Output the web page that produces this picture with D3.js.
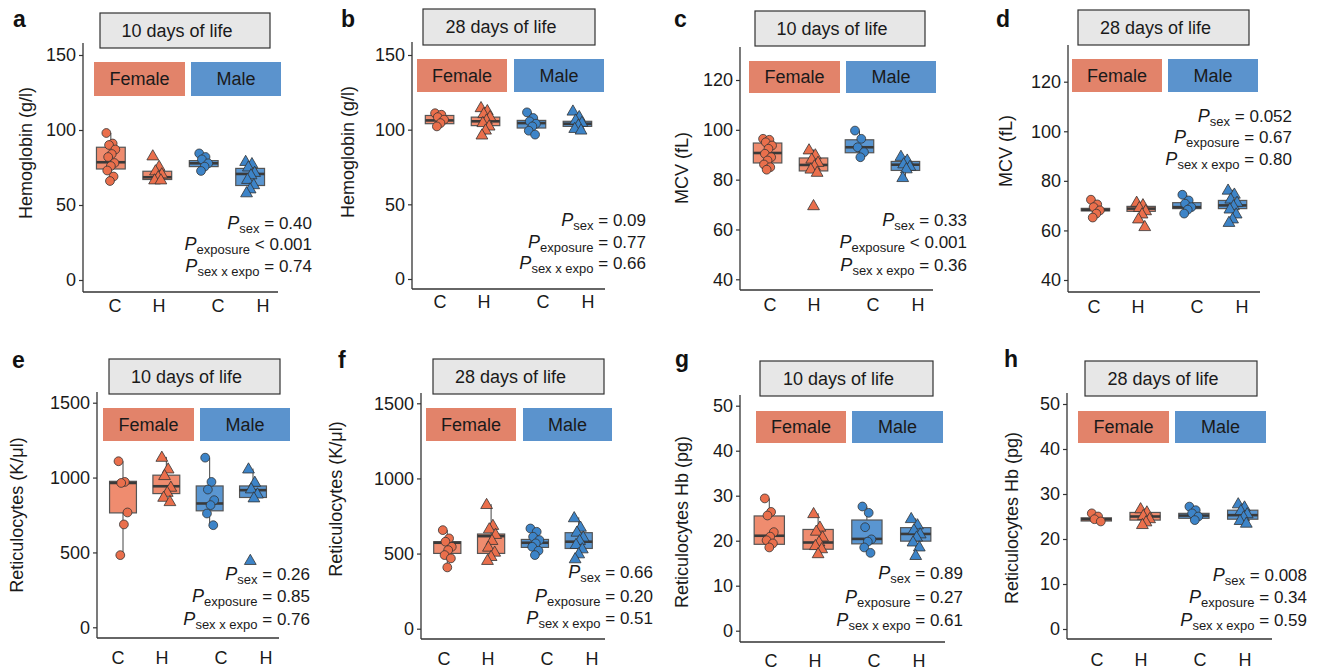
<!DOCTYPE html>
<html>
<head>
<meta charset="utf-8">
<script src="https://cdn.jsdelivr.net/npm/d3@7"></script>
<style>
  body { margin: 0; background: #fff; }
  svg { display: block; }
</style>
</head>
<body>
<svg id="fig" width="1320" height="672"></svg>
<script>
var FONT = "'Liberation Sans', Arial, sans-serif";

// group order: Female C, Female H, Male C, Male H
var groups = ["FC", "FH", "MC", "MH"];
var catLabels = ["C", "H", "C", "H"];
var panelKeys = ["a", "b", "c", "d", "e", "f", "g", "h"];
var titles = ["10 days of life", "28 days of life", "10 days of life", "28 days of life",
              "10 days of life", "28 days of life", "10 days of life", "28 days of life"];
var yTitles = ["Hemoglobin (g/l)", "Hemoglobin (g/l)", "MCV (fL)", "MCV (fL)",
               "Reticulocytes (K/\u03bcl)", "Reticulocytes (K/\u03bcl)",
               "Reticulocytes Hb (pg)", "Reticulocytes Hb (pg)"];
var pSex = ["= 0.40", "= 0.09", "= 0.33", "= 0.052", "= 0.26", "= 0.66", "= 0.89", "= 0.008"];
var pExpo = ["< 0.001", "= 0.77", "< 0.001", "= 0.67", "= 0.85", "= 0.20", "= 0.27", "= 0.34"];
var pInter = ["= 0.74", "= 0.66", "= 0.36", "= 0.80", "= 0.76", "= 0.51", "= 0.61", "= 0.59"];

// box stats per group: [lower whisker, q1, median, q3, upper whisker]
var hbD10Pts = [
  [98, 91, 90, 87, 84, 82, 78, 76, 73, 69, 66],
  [83, 76, 73, 71, 69, 67, 67],
  [84.4, 82, 80.4, 77.8, 75.6, 72.7],
  [79.3, 77.8, 75.6, 72, 70.4, 67.3, 63.8, 61, 58.4]
];
var hbD10Box = [[66, 74, 78.5, 88.5, 98], [66.5, 67, 68.5, 72.5, 76], [72.7, 75.6, 77.8, 79.6, 84.4], [58.4, 63, 70.7, 74.4, 79.3]];

var hbD28Pts = [
  [111, 110, 108.4, 106.7, 104.4, 102.2],
  [115, 113, 111, 109, 106.7, 105, 102.7, 100, 96.7],
  [111.6, 107.8, 105.6, 104, 102.2, 99.3, 96.7],
  [112.7, 109, 106.7, 105.1, 103.3, 101.1, 100]
];
var hbD28Box = [[102.2, 104, 106.2, 109.5, 111], [96.7, 102.7, 105.6, 108.4, 115], [96.7, 101.1, 104.4, 106.2, 111.6], [100, 102.2, 104, 105.6, 110]];

var mcvD10Pts = [
  [96.4, 96, 95, 93.7, 92.4, 90.4, 89, 87.7, 86.1, 85, 84],
  [92.1, 90.1, 88.4, 87.1, 85.7, 84.4, 83.1, 69.7],
  [99.7, 96.4, 93, 91, 89],
  [89.5, 88, 86.5, 85.5, 84.5, 81]
];
var mcvD10Box = [[84, 86.7, 90.7, 94.7, 96.4], [83.1, 83.5, 85.9, 88.7, 92.1], [89, 90.8, 93, 96, 99.7], [81, 83.7, 86, 87.3, 89.5]];

var mcvD28Pts = [
  [72.4, 70.5, 69.4, 68.1, 66.8, 65.2],
  [71.5, 70.5, 69.4, 68.1, 66.8, 64.8, 61.7],
  [74.4, 72.1, 70.8, 69.4, 68.4, 66.8],
  [76.4, 74.8, 72.8, 71.5, 70.1, 68.8, 66.8, 64.8, 63.4]
];
var mcvD28Box = [[65.2, 67.9, 68.3, 68.9, 72.4], [64.8, 67.7, 68.8, 69.7, 71.5], [66.8, 68.8, 69.4, 71.2, 74.4], [63.4, 68.8, 70.1, 72.1, 76.4]];

var retD10Pts = [
  [1109, 971, 964, 767, 687, 482],
  [1138, 1060, 1016, 938, 904, 871, 842],
  [1133, 971, 920, 849, 816, 760, 682],
  [1060, 971, 927, 893, 867, 449]
];
var retD10Box = [[482, 764, 964, 975, 1109], [842, 893, 942, 1016, 1138], [682, 778, 827, 944, 1133], [867, 867, 916, 944, 1060]];

var retD28Pts = [
  [656, 601, 579, 545, 523, 490, 468, 408],
  [829, 690, 667, 630, 590, 545, 512, 483, 457],
  [667, 645, 612, 590, 568, 545, 519, 490],
  [741, 678, 645, 612, 590, 563, 534, 501, 468]
];
var retD28Box = [[408, 501, 572, 579, 656], [457, 501, 616, 630, 829], [490, 541, 572, 594, 667], [468, 534, 579, 639, 741]];

var rhbD10Pts = [
  [29.4, 26.4, 25.6, 21.9, 20.9, 20.1, 19.4, 18.5],
  [26.1, 23.1, 22.2, 20.9, 19.8, 19, 18.3, 17.2],
  [27.6, 26.2, 23, 20.3, 19.8, 18.5, 17.3],
  [25, 23.6, 22.5, 21.6, 20.9, 19.8, 18.7, 16.8]
];
var rhbD10Box = [[18.5, 19.2, 21.1, 25.5, 29.4], [17.2, 18.1, 19.6, 22.5, 26.1], [17.3, 19.3, 20.4, 24.6, 27.6], [16.8, 19.9, 21.5, 22.9, 25]];

var rhbD28Pts = [
  [25.7, 25, 24.4, 23.9],
  [26.8, 26.1, 25.3, 24.6, 23.9, 23.3],
  [27.2, 26.4, 25.7, 25, 24.2],
  [27.9, 27.2, 26.4, 25.7, 25, 24.2, 23.6]
];
var rhbD28Box = [[23.9, 24, 24.4, 24.7, 25.7], [23.3, 24.2, 25, 25.9, 26.8], [24.2, 24.6, 25.2, 25.7, 27.2], [23.6, 24.4, 25.3, 26.4, 27.9]];

var yTicks = [[0, 150, 50], [0, 150, 50], [40, 120, 20], [40, 120, 20],
              [0, 1500, 500], [0, 1500, 500], [0, 50, 10], [0, 50, 10]];

var allPts = [hbD10Pts, hbD28Pts, mcvD10Pts, mcvD28Pts, retD10Pts, retD28Pts, rhbD10Pts, rhbD28Pts];
var allBox = [hbD10Box, hbD28Box, mcvD10Box, mcvD28Box, retD10Box, retD28Box, rhbD10Box, rhbD28Box];

// page layout of each panel (pixels)
var frames = [
  { x0: 83, x1: 278, yT: 43, yB: 292, pLo: 280, pHi: 55, title: [100, 13, 270, 48], strip: [94, 185, 191, 281, 62, 96], letter: [13, 27], ylab: [32, 153], catShift: 32, catY: 312, pX: 312, pY: [229, 250, 272] },
  { x0: 412, x1: 605, yT: 42, yB: 289, pLo: 279, pHi: 55, title: [423, 9, 595, 45], strip: [417, 507, 514, 604, 59, 92], letter: [341, 27], ylab: [354, 152], catShift: 28, catY: 308, pX: 646, pY: [226, 248, 269] },
  { x0: 740, x1: 933, yT: 47, yB: 290, pLo: 279.3, pHi: 80, title: [755, 11, 925, 46], strip: [749, 840, 846, 936, 61, 93], letter: [674, 27], ylab: [688, 168], catShift: 30, catY: 311, pX: 967, pY: [226, 248, 271] },
  { x0: 1068, x1: 1260, yT: 45, yB: 292, pLo: 280, pHi: 81.7, title: [1078, 10, 1249, 45], strip: [1072, 1162, 1168, 1258, 59, 92], letter: [996, 27], ylab: [1012, 151], catShift: 26, catY: 313, pX: 1292, pY: [122, 143, 165] },
  { x0: 97, x1: 279, yT: 392, yB: 638, pLo: 627.3, pHi: 402.7, title: [109, 359, 280, 394], strip: [103, 194, 200, 290, 408, 441], letter: [12, 368], ylab: [23, 515], catShift: 21, catY: 664, pX: 310, pY: [580, 602, 625] },
  { x0: 421, x1: 605, yT: 393, yB: 639, pLo: 628.7, pHi: 403.3, title: [433, 359, 604, 394], strip: [426, 516, 523, 612, 408, 441], letter: [338, 368], ylab: [342, 499], catShift: 23, catY: 665, pX: 653, pY: [578, 602, 624] },
  { x0: 740, x1: 945, yT: 395, yB: 642, pLo: 630.7, pHi: 405.7, title: [760, 361, 933, 396], strip: [756, 846, 852, 943, 411, 443], letter: [675, 367], ylab: [688, 522], catShift: 31, catY: 667, pX: 963, pY: [579, 603, 626] },
  { x0: 1067, x1: 1272, yT: 393, yB: 639, pLo: 629, pHi: 404, title: [1085, 361, 1257, 396], strip: [1078, 1169, 1175, 1266, 411, 443], letter: [1004, 367], ylab: [1018, 518], catShift: 30, catY: 666, pX: 1307, pY: [581, 603, 626] }
];
var catOffsets = [0, 44, 103, 148];

var stripColor = ["#E2836A", "#5B93CD"];
var boxColor = ["#EF8C6F", "#5A96D1"];
var pointColor = ["#EA6F4C", "#3D84C8"];

var svg = d3.select("#fig");

function jitter(i) {
  return ((i * 7) % 11 - 5) * 0.9;
}

function drawPanel(k) {
  var f = frames[k];
  var g = svg.append("g");
  var x = d3.scalePoint().domain(groups).range([f.x0, f.x1]).padding(0.6);
  var y = d3.scaleLinear().domain([yTicks[k][0], yTicks[k][1]]).range([f.pLo, f.pHi]);
  var bw = x.step() * 0.62;

  // panel letter
  g.append("text").attr("x", f.letter[0]).attr("y", f.letter[1])
    .attr("font-family", FONT).attr("font-size", 23).attr("font-weight", "bold")
    .attr("fill", "#111").text(panelKeys[k]);

  // title box
  g.append("rect")
    .attr("x", f.title[0]).attr("y", f.title[1])
    .attr("width", f.title[2] - f.title[0]).attr("height", f.title[3] - f.title[1])
    .attr("fill", "#e7e7e7").attr("stroke", "#333").attr("stroke-width", 1.2);
  g.append("text")
    .attr("x", (f.title[0] + f.title[2]) / 2 - 8).attr("y", (f.title[1] + f.title[3]) / 2 + 6)
    .attr("text-anchor", "middle").attr("font-family", FONT).attr("font-size", 18)
    .attr("fill", "#1a1a1a").text(titles[k]);

  // sex strips
  var s = f.strip;
  [[s[0], s[1], "Female", 0], [s[2], s[3], "Male", 1]].forEach(function (st) {
    g.append("rect").attr("x", st[0]).attr("y", s[4])
      .attr("width", st[1] - st[0]).attr("height", s[5] - s[4])
      .attr("fill", stripColor[st[3]]);
    g.append("text").attr("x", (st[0] + st[1]) / 2).attr("y", (s[4] + s[5]) / 2 + 6)
      .attr("text-anchor", "middle").attr("font-family", FONT).attr("font-size", 18)
      .attr("fill", "#1a1a1a").text(st[2]);
  });

  // y axis
  var ax = g.append("g").attr("transform", "translate(" + f.x0 + ",0)")
    .call(d3.axisLeft(y)
      .tickValues(d3.range(yTicks[k][0], yTicks[k][1] + 1e-9, yTicks[k][2]))
      .tickFormat(d3.format("d"))
      .tickSize(4).tickPadding(3));
  ax.attr("font-size", 18).attr("font-family", FONT).attr("color", "#1a1a1a");
  ax.select(".domain").remove();
  ax.selectAll("line").attr("stroke", "#333").attr("stroke-width", 1.2);

  g.append("line").attr("x1", f.x0).attr("x2", f.x0).attr("y1", f.yT).attr("y2", f.yB)
    .attr("stroke", "#333").attr("stroke-width", 1.3);
  g.append("line").attr("x1", f.x0).attr("x2", f.x1).attr("y1", f.yB).attr("y2", f.yB)
    .attr("stroke", "#333").attr("stroke-width", 1.3);

  // y title
  g.append("text")
    .attr("transform", "translate(" + f.ylab[0] + "," + f.ylab[1] + ") rotate(-90)")
    .attr("text-anchor", "middle").attr("font-family", FONT).attr("font-size", 18)
    .attr("fill", "#1a1a1a").text(yTitles[k]);

  // category labels
  catLabels.forEach(function (c, i) {
    g.append("text").attr("x", f.x0 + f.catShift + catOffsets[i]).attr("y", f.catY)
      .attr("text-anchor", "middle").attr("font-family", FONT).attr("font-size", 18)
      .attr("fill", "#1a1a1a").text(c);
  });

  // boxes
  var box = allBox[k];
  var bg = g.selectAll(".bx").data(groups).enter().append("g");
  bg.append("line")
    .attr("x1", function (d) { return x(d); }).attr("x2", function (d) { return x(d); })
    .attr("y1", function (d, i) { return y(box[i][0]); })
    .attr("y2", function (d, i) { return y(box[i][4]); })
    .attr("stroke", "#444").attr("stroke-width", 1);
  bg.append("rect")
    .attr("x", function (d) { return x(d) - bw / 2; })
    .attr("y", function (d, i) { return y(box[i][3]); })
    .attr("width", bw)
    .attr("height", function (d, i) { return Math.max(1, y(box[i][1]) - y(box[i][3])); })
    .attr("fill", function (d, i) { return boxColor[i < 2 ? 0 : 1]; })
    .attr("stroke", "#555").attr("stroke-width", 1.2);
  bg.append("line")
    .attr("x1", function (d) { return x(d) - bw / 2; })
    .attr("x2", function (d) { return x(d) + bw / 2; })
    .attr("y1", function (d, i) { return y(box[i][2]); })
    .attr("y2", function (d, i) { return y(box[i][2]); })
    .attr("stroke", "#3a3a3a").attr("stroke-width", 2.6);

  // points
  var pts = allPts[k];
  var tri = d3.symbol().type(d3.symbolTriangle).size(60);
  groups.forEach(function (grp, gi) {
    var col = pointColor[gi < 2 ? 0 : 1];
    var sel = g.selectAll(".pt" + gi).data(pts[gi]).enter();
    if (gi % 2 === 0) {
      sel.append("circle")
        .attr("cx", function (d, i) { return x(grp) + jitter(i); })
        .attr("cy", function (d) { return y(d); })
        .attr("r", 4.4)
        .attr("fill", col).attr("stroke", "#333").attr("stroke-width", 0.8);
    } else {
      sel.append("path")
        .attr("d", tri)
        .attr("transform", function (d, i) {
          return "translate(" + (x(grp) + jitter(i)) + "," + (y(d) + 1) + ")";
        })
        .attr("fill", col).attr("stroke", "#333").attr("stroke-width", 0.8);
    }
  });

  // P values
  var pl = [["sex", pSex[k]], ["exposure", pExpo[k]], ["sex x expo", pInter[k]]];
  pl.forEach(function (p, i) {
    var t = g.append("text").attr("x", f.pX).attr("y", f.pY[i])
      .attr("text-anchor", "end").attr("font-family", FONT).attr("fill", "#1a1a1a");
    t.append("tspan").attr("font-size", 18).attr("font-style", "italic").text("P");
    t.append("tspan").attr("font-size", 13).attr("dy", 4).text(p[0]);
    t.append("tspan").attr("font-size", 17).attr("dy", -4).text("\u00a0" + p[1]);
  });
}

for (var k = 0; k < panelKeys.length; k++) {
  drawPanel(k);
}
</script>
</body>
</html>
